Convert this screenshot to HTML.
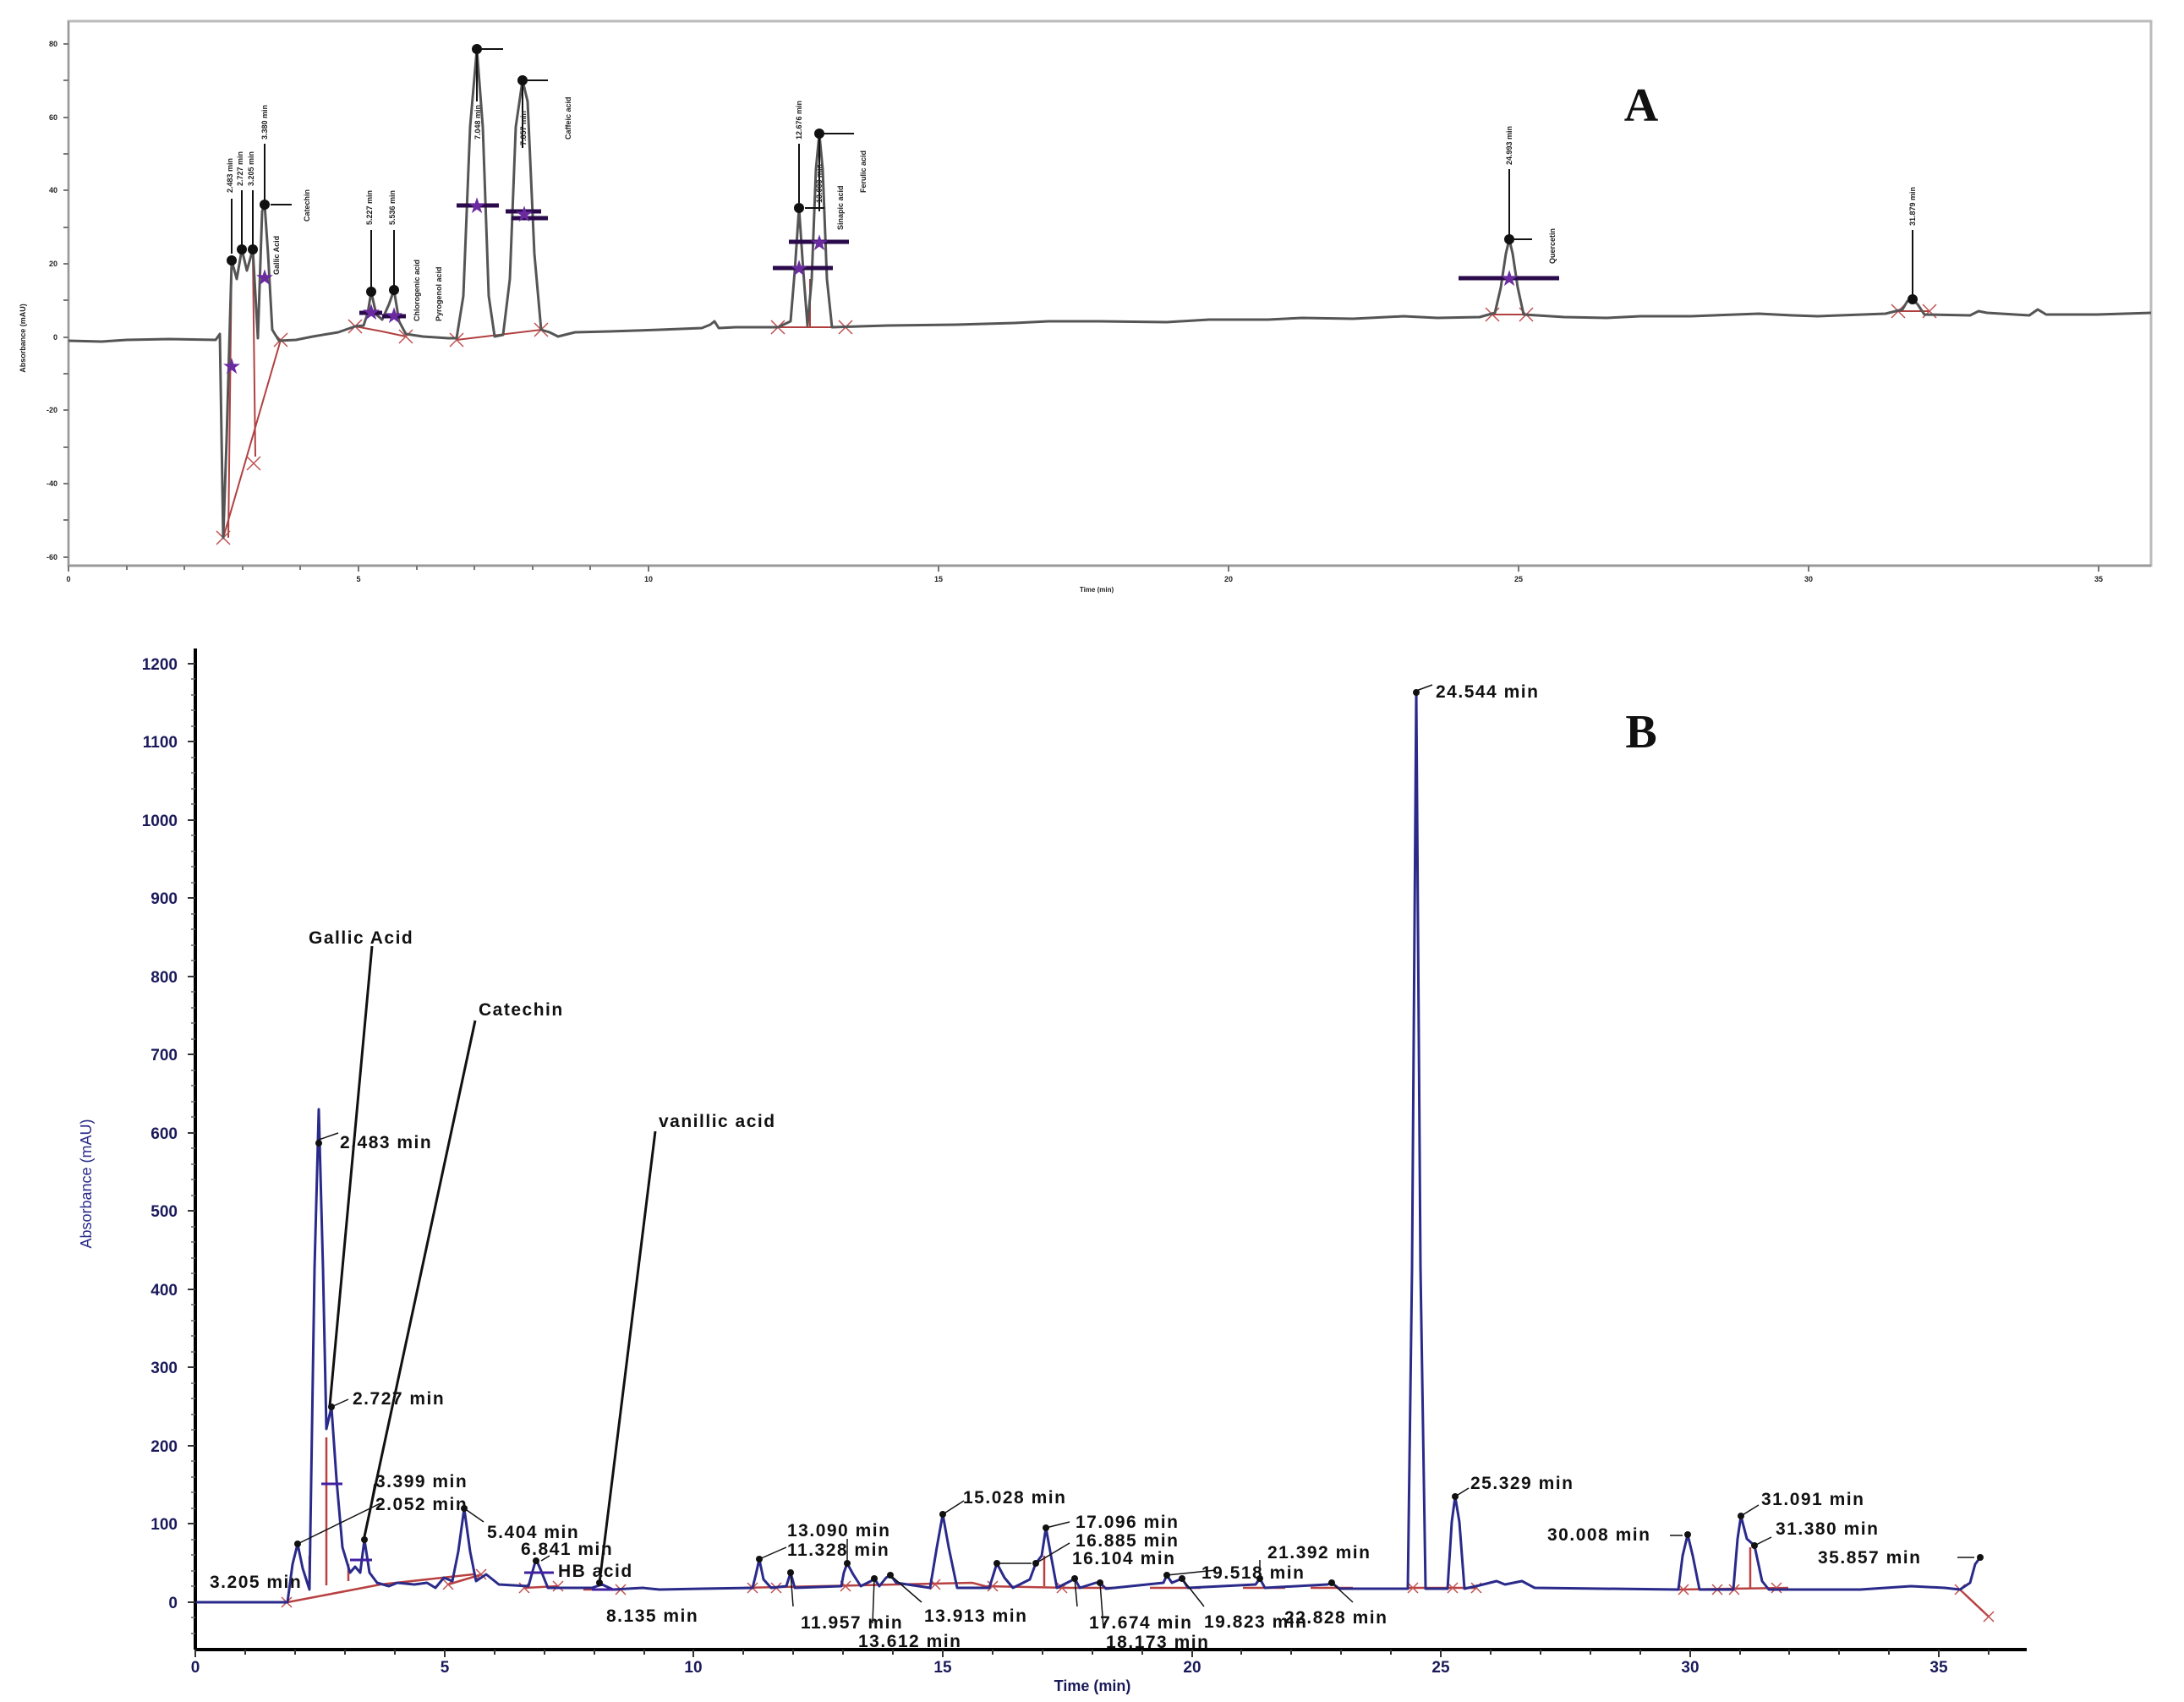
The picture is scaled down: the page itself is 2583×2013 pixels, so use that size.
<!DOCTYPE html>
<html><head><meta charset="utf-8"><style>
html,body{margin:0;padding:0;background:#fff;}
svg{display:block;}
.t{font-family:"Liberation Sans",sans-serif;font-weight:bold;fill:#111;}
.lb{font-family:"Liberation Sans",sans-serif;font-weight:bold;font-size:21px;letter-spacing:1.5px;fill:#111;}
.ax{font-family:"Liberation Sans",sans-serif;font-weight:bold;font-size:19px;fill:#1a1a5a;}
.sa{font-family:"Liberation Sans",sans-serif;font-weight:bold;font-size:9px;fill:#222;}
</style></head><body>
<svg width="2583" height="2013" viewBox="0 0 2583 2013" xmlns="http://www.w3.org/2000/svg">
<rect width="2583" height="2013" fill="#fff"/>

<!-- ================= PANEL A ================= -->
<rect x="81" y="25" width="2463" height="644" fill="none" stroke="#bbb" stroke-width="3"/>
<line x1="81" y1="25" x2="81" y2="669" stroke="#999" stroke-width="2"/>
<line x1="81" y1="669" x2="2544" y2="669" stroke="#999" stroke-width="3"/>
<g stroke="#777" stroke-width="2">
<line x1="75" y1="52" x2="81" y2="52"/><line x1="75" y1="95" x2="81" y2="95"/><line x1="75" y1="139" x2="81" y2="139"/><line x1="75" y1="182" x2="81" y2="182"/><line x1="75" y1="225" x2="81" y2="225"/><line x1="75" y1="269" x2="81" y2="269"/><line x1="75" y1="312" x2="81" y2="312"/><line x1="75" y1="355" x2="81" y2="355"/><line x1="75" y1="399" x2="81" y2="399"/><line x1="75" y1="442" x2="81" y2="442"/><line x1="75" y1="485" x2="81" y2="485"/><line x1="75" y1="529" x2="81" y2="529"/><line x1="75" y1="572" x2="81" y2="572"/><line x1="75" y1="615" x2="81" y2="615"/><line x1="75" y1="659" x2="81" y2="659"/>
</g>
<g stroke="#777" stroke-width="2">
<line x1="81" y1="669" x2="81" y2="676"/><line x1="150" y1="669" x2="150" y2="674"/><line x1="218" y1="669" x2="218" y2="674"/><line x1="287" y1="669" x2="287" y2="674"/><line x1="355" y1="669" x2="355" y2="674"/><line x1="424" y1="669" x2="424" y2="676"/><line x1="493" y1="669" x2="493" y2="674"/><line x1="561" y1="669" x2="561" y2="674"/><line x1="630" y1="669" x2="630" y2="674"/><line x1="698" y1="669" x2="698" y2="674"/><line x1="767" y1="669" x2="767" y2="676"/><line x1="1110" y1="669" x2="1110" y2="676"/><line x1="1453" y1="669" x2="1453" y2="676"/><line x1="1796" y1="669" x2="1796" y2="676"/><line x1="2139" y1="669" x2="2139" y2="676"/><line x1="2482" y1="669" x2="2482" y2="676"/>
</g>
<g class="sa" text-anchor="end">
<text x="68" y="55">80</text><text x="68" y="142">60</text><text x="68" y="228">40</text><text x="68" y="315">20</text><text x="68" y="402">0</text><text x="68" y="488">-20</text><text x="68" y="575">-40</text><text x="68" y="662">-60</text>
</g>
<g class="sa" text-anchor="middle">
<text x="81" y="688">0</text><text x="424" y="688">5</text><text x="767" y="688">10</text><text x="1110" y="688">15</text><text x="1453" y="688">20</text><text x="1796" y="688">25</text><text x="2139" y="688">30</text><text x="2482" y="688">35</text>
<text x="1297" y="700" font-size="8">Time (min)</text>
</g>
<text class="sa" transform="translate(30,400) rotate(-90)" text-anchor="middle" font-size="8">Absorbance (mAU)</text>

<text x="1941" y="143" text-anchor="middle" font-family="Liberation Serif,serif" font-weight="bold" font-size="56" fill="#111">A</text>

<!-- red baselines A -->
<g stroke="#b04040" stroke-width="2" fill="none">
<polyline points="264,636 332,402"/>
<line x1="274" y1="308" x2="270" y2="636"/><line x1="299" y1="300" x2="302" y2="540"/>
<polyline points="420,386 452,392 480,398"/>
<polyline points="540,402 640,390"/>
<polyline points="920,387 1000,387"/><line x1="958" y1="387" x2="958" y2="330"/>
<polyline points="1765,372 1805,372"/><polyline points="2245,368 2282,368"/>
</g>
<g stroke="#c05050" stroke-width="1.5">
<path d="M256,628 l16,16 M272,628 l-16,16"/><path d="M292,540 l16,16 M308,540 l-16,16"/><path d="M324,394 l16,16 M340,394 l-16,16"/>
<path d="M412,378 l16,16 M428,378 l-16,16"/><path d="M472,390 l16,16 M488,390 l-16,16"/>
<path d="M532,394 l16,16 M548,394 l-16,16"/><path d="M632,382 l16,16 M648,382 l-16,16"/>
<path d="M912,379 l16,16 M928,379 l-16,16"/><path d="M992,379 l16,16 M1008,379 l-16,16"/>
<path d="M1757,364 l16,16 M1773,364 l-16,16"/><path d="M1797,364 l16,16 M1813,364 l-16,16"/>
<path d="M2237,360 l16,16 M2253,360 l-16,16"/><path d="M2274,360 l16,16 M2290,360 l-16,16"/>
</g>

<!-- trace A -->
<polyline fill="none" stroke="#555" stroke-width="3" stroke-linejoin="round" points="81,403 120,404 150,402 200,401 255,402 260,395 264,636 268,520 274,308 280,330 286,295 292,320 299,295 305,400 310,250 313,242 317,300 322,390 330,403 350,402 370,398 400,393 420,386 430,385 435,370 439,345 445,372 452,378 460,360 466,343 472,380 480,395 500,398 530,400 540,400 548,350 556,150 564,58 571,150 578,350 585,398 595,396 603,330 610,150 618,95 624,120 632,300 640,390 650,393 660,398 680,393 720,392 780,390 830,388 840,384 845,380 850,388 870,387 920,387 935,380 940,320 945,246 950,320 955,385 960,330 965,200 969,158 973,200 978,330 984,387 1050,385 1130,384 1200,382 1240,380 1300,380 1380,381 1430,378 1500,378 1540,376 1600,377 1660,374 1700,376 1750,375 1768,370 1775,340 1781,300 1785,283 1789,300 1795,340 1802,372 1850,375 1900,376 1940,374 2000,374 2080,371 2120,373 2150,374 2230,371 2250,366 2256,356 2262,354 2268,360 2276,372 2330,373 2340,368 2350,370 2400,373 2410,366 2420,372 2480,372 2544,370"/>
<!-- black label lines A -->
<g stroke="#111" stroke-width="2">
<line x1="313" y1="242" x2="313" y2="170"/><line x1="274" y1="300" x2="274" y2="235"/><line x1="286" y1="290" x2="286" y2="225"/><line x1="299" y1="290" x2="299" y2="225"/>
<line x1="320" y1="242" x2="345" y2="242"/>
<line x1="439" y1="340" x2="439" y2="272"/><line x1="466" y1="340" x2="466" y2="272"/>
<line x1="564" y1="58" x2="564" y2="120"/><line x1="570" y1="58" x2="595" y2="58"/>
<line x1="618" y1="95" x2="618" y2="175"/><line x1="624" y1="95" x2="648" y2="95"/>
<line x1="945" y1="240" x2="945" y2="170"/><line x1="952" y1="246" x2="975" y2="246"/>
<line x1="969" y1="158" x2="969" y2="250"/><line x1="975" y1="158" x2="1010" y2="158"/>
<line x1="1785" y1="278" x2="1785" y2="200"/><line x1="1791" y1="283" x2="1812" y2="283"/>
<line x1="2262" y1="350" x2="2262" y2="272"/>
</g>
<g fill="#111">
<circle cx="274" cy="308" r="6"/><circle cx="286" cy="295" r="6"/><circle cx="299" cy="295" r="6"/><circle cx="313" cy="242" r="6"/>
<circle cx="439" cy="345" r="6"/><circle cx="466" cy="343" r="6"/><circle cx="564" cy="58" r="6"/><circle cx="618" cy="95" r="6"/>
<circle cx="945" cy="246" r="6"/><circle cx="969" cy="158" r="6"/><circle cx="1785" cy="283" r="6"/><circle cx="2262" cy="354" r="6"/>
</g>
<!-- purple bars/stars A -->
<g stroke="#2a0a4a" stroke-width="5">
<line x1="540" y1="243" x2="590" y2="243"/><line x1="598" y1="250" x2="640" y2="250"/><line x1="605" y1="258" x2="648" y2="258"/>
<line x1="933" y1="286" x2="1004" y2="286"/><line x1="914" y1="317" x2="985" y2="317"/>
<line x1="1725" y1="329" x2="1844" y2="329"/>
<line x1="425" y1="370" x2="452" y2="370"/><line x1="452" y1="374" x2="480" y2="374"/>
</g>
<g fill="#6a2aa0" font-size="26" font-family="DejaVu Sans,sans-serif" text-anchor="middle">
<text x="274" y="442">★</text><text x="313" y="337">★</text><text x="439" y="378">★</text><text x="466" y="382">★</text>
<text x="564" y="252">★</text><text x="620" y="262">★</text><text x="945" y="326">★</text><text x="969" y="296">★</text><text x="1785" y="338">★</text>
</g>
<!-- rotated small labels A -->
<g class="sa">
<text transform="translate(275,228) rotate(-90)">2.483 min</text>
<text transform="translate(287,220) rotate(-90)">2.727 min</text>
<text transform="translate(300,220) rotate(-90)">3.205 min</text>
<text transform="translate(316,165) rotate(-90)">3.380 min</text>
<text transform="translate(366,262) rotate(-90)">Catechin</text>
<text transform="translate(330,325) rotate(-90)">Gallic Acid</text>
<text transform="translate(440,266) rotate(-90)">5.227 min</text>
<text transform="translate(467,266) rotate(-90)">5.536 min</text>
<text transform="translate(496,380) rotate(-90)">Chlorogenic acid</text>
<text transform="translate(522,380) rotate(-90)">Pyrogenol acid</text>
<text transform="translate(568,165) rotate(-90)">7.048 min</text>
<text transform="translate(622,172) rotate(-90)">7.857 min</text>
<text transform="translate(675,165) rotate(-90)">Caffeic acid</text>
<text transform="translate(948,165) rotate(-90)">12.676 min</text>
<text transform="translate(972,240) rotate(-90)">13.000 min</text>
<text transform="translate(997,272) rotate(-90)">Sinapic acid</text>
<text transform="translate(1024,228) rotate(-90)">Ferulic acid</text>
<text transform="translate(1788,195) rotate(-90)">24.993 min</text>
<text transform="translate(1839,312) rotate(-90)">Quercetin</text>
<text transform="translate(2265,267) rotate(-90)">31.879 min</text>
</g>

<!-- ================= PANEL B ================= -->
<line x1="231" y1="767" x2="231" y2="1951" stroke="#000" stroke-width="4"/>
<line x1="231" y1="1951" x2="2397" y2="1951" stroke="#000" stroke-width="4"/>
<g stroke="#333" stroke-width="2">
<line x1="222" y1="785" x2="231" y2="785"/><line x1="222" y1="877" x2="231" y2="877"/><line x1="222" y1="970" x2="231" y2="970"/><line x1="222" y1="1062" x2="231" y2="1062"/><line x1="222" y1="1155" x2="231" y2="1155"/><line x1="222" y1="1247" x2="231" y2="1247"/><line x1="222" y1="1340" x2="231" y2="1340"/><line x1="222" y1="1432" x2="231" y2="1432"/><line x1="222" y1="1525" x2="231" y2="1525"/><line x1="222" y1="1617" x2="231" y2="1617"/><line x1="222" y1="1710" x2="231" y2="1710"/><line x1="222" y1="1802" x2="231" y2="1802"/><line x1="222" y1="1895" x2="231" y2="1895"/>
</g>
<g stroke="#666" stroke-width="1.5">
<line x1="226" y1="803" x2="231" y2="803"/><line x1="226" y1="822" x2="231" y2="822"/><line x1="226" y1="840" x2="231" y2="840"/><line x1="226" y1="859" x2="231" y2="859"/>
<line x1="226" y1="896" x2="231" y2="896"/><line x1="226" y1="914" x2="231" y2="914"/><line x1="226" y1="933" x2="231" y2="933"/><line x1="226" y1="951" x2="231" y2="951"/>
<line x1="226" y1="988" x2="231" y2="988"/><line x1="226" y1="1007" x2="231" y2="1007"/><line x1="226" y1="1025" x2="231" y2="1025"/><line x1="226" y1="1044" x2="231" y2="1044"/>
<line x1="226" y1="1081" x2="231" y2="1081"/><line x1="226" y1="1099" x2="231" y2="1099"/><line x1="226" y1="1118" x2="231" y2="1118"/><line x1="226" y1="1136" x2="231" y2="1136"/>
<line x1="226" y1="1173" x2="231" y2="1173"/><line x1="226" y1="1192" x2="231" y2="1192"/><line x1="226" y1="1210" x2="231" y2="1210"/><line x1="226" y1="1229" x2="231" y2="1229"/>
<line x1="226" y1="1266" x2="231" y2="1266"/><line x1="226" y1="1284" x2="231" y2="1284"/><line x1="226" y1="1303" x2="231" y2="1303"/><line x1="226" y1="1321" x2="231" y2="1321"/>
<line x1="226" y1="1358" x2="231" y2="1358"/><line x1="226" y1="1377" x2="231" y2="1377"/><line x1="226" y1="1395" x2="231" y2="1395"/><line x1="226" y1="1414" x2="231" y2="1414"/>
<line x1="226" y1="1451" x2="231" y2="1451"/><line x1="226" y1="1469" x2="231" y2="1469"/><line x1="226" y1="1488" x2="231" y2="1488"/><line x1="226" y1="1506" x2="231" y2="1506"/>
<line x1="226" y1="1543" x2="231" y2="1543"/><line x1="226" y1="1562" x2="231" y2="1562"/><line x1="226" y1="1580" x2="231" y2="1580"/><line x1="226" y1="1599" x2="231" y2="1599"/>
<line x1="226" y1="1636" x2="231" y2="1636"/><line x1="226" y1="1654" x2="231" y2="1654"/><line x1="226" y1="1673" x2="231" y2="1673"/><line x1="226" y1="1691" x2="231" y2="1691"/>
<line x1="226" y1="1728" x2="231" y2="1728"/><line x1="226" y1="1747" x2="231" y2="1747"/><line x1="226" y1="1765" x2="231" y2="1765"/><line x1="226" y1="1784" x2="231" y2="1784"/>
<line x1="226" y1="1821" x2="231" y2="1821"/><line x1="226" y1="1839" x2="231" y2="1839"/><line x1="226" y1="1858" x2="231" y2="1858"/><line x1="226" y1="1876" x2="231" y2="1876"/>
<line x1="226" y1="1913" x2="231" y2="1913"/><line x1="226" y1="1932" x2="231" y2="1932"/>
</g>
<g stroke="#333" stroke-width="2">
<line x1="231" y1="1951" x2="231" y2="1960"/><line x1="290" y1="1951" x2="290" y2="1957"/><line x1="349" y1="1951" x2="349" y2="1957"/><line x1="408" y1="1951" x2="408" y2="1957"/><line x1="467" y1="1951" x2="467" y2="1957"/>
<line x1="526" y1="1951" x2="526" y2="1960"/><line x1="585" y1="1951" x2="585" y2="1957"/><line x1="644" y1="1951" x2="644" y2="1957"/><line x1="703" y1="1951" x2="703" y2="1957"/><line x1="762" y1="1951" x2="762" y2="1957"/>
<line x1="820" y1="1951" x2="820" y2="1960"/><line x1="879" y1="1951" x2="879" y2="1957"/><line x1="938" y1="1951" x2="938" y2="1957"/><line x1="997" y1="1951" x2="997" y2="1957"/><line x1="1056" y1="1951" x2="1056" y2="1957"/>
<line x1="1115" y1="1951" x2="1115" y2="1960"/><line x1="1174" y1="1951" x2="1174" y2="1957"/><line x1="1233" y1="1951" x2="1233" y2="1957"/><line x1="1292" y1="1951" x2="1292" y2="1957"/><line x1="1351" y1="1951" x2="1351" y2="1957"/>
<line x1="1410" y1="1951" x2="1410" y2="1960"/><line x1="1468" y1="1951" x2="1468" y2="1957"/><line x1="1527" y1="1951" x2="1527" y2="1957"/><line x1="1586" y1="1951" x2="1586" y2="1957"/><line x1="1645" y1="1951" x2="1645" y2="1957"/>
<line x1="1704" y1="1951" x2="1704" y2="1960"/><line x1="1763" y1="1951" x2="1763" y2="1957"/><line x1="1822" y1="1951" x2="1822" y2="1957"/><line x1="1881" y1="1951" x2="1881" y2="1957"/><line x1="1940" y1="1951" x2="1940" y2="1957"/>
<line x1="1999" y1="1951" x2="1999" y2="1960"/><line x1="2058" y1="1951" x2="2058" y2="1957"/><line x1="2116" y1="1951" x2="2116" y2="1957"/><line x1="2175" y1="1951" x2="2175" y2="1957"/><line x1="2234" y1="1951" x2="2234" y2="1957"/>
<line x1="2293" y1="1951" x2="2293" y2="1960"/><line x1="2352" y1="1951" x2="2352" y2="1957"/>
</g>
<g class="ax" text-anchor="end">
<text x="210" y="792">1200</text><text x="210" y="884">1100</text><text x="210" y="977">1000</text><text x="210" y="1069">900</text><text x="210" y="1162">800</text><text x="210" y="1254">700</text><text x="210" y="1347">600</text><text x="210" y="1439">500</text><text x="210" y="1532">400</text><text x="210" y="1624">300</text><text x="210" y="1717">200</text><text x="210" y="1809">100</text><text x="210" y="1902">0</text>
</g>
<g class="ax" text-anchor="middle">
<text x="231" y="1978">0</text><text x="526" y="1978">5</text><text x="820" y="1978">10</text><text x="1115" y="1978">15</text><text x="1410" y="1978">20</text><text x="1704" y="1978">25</text><text x="1999" y="1978">30</text><text x="2293" y="1978">35</text>
<text x="1292" y="2000" font-size="18">Time (min)</text>
</g>
<text transform="translate(108,1400) rotate(-90)" text-anchor="middle" font-family="Liberation Sans,sans-serif" font-size="18" fill="#2a2a8a">Absorbance (mAU)</text>

<text x="1941" y="884" text-anchor="middle" font-family="Liberation Serif,serif" font-weight="bold" font-size="56" fill="#111">B</text>

<!-- red baselines B -->
<g stroke="#b84040" stroke-width="2.5" fill="none">
<polyline points="340,1895 450,1874 560,1862"/>
<line x1="366" y1="1880" x2="366" y2="1840"/><line x1="386" y1="1875" x2="386" y2="1700"/><line x1="412" y1="1870" x2="412" y2="1850"/>
<polyline points="530,1874 570,1862"/>
<polyline points="620,1878 660,1876"/><polyline points="690,1880 735,1880"/>
<polyline points="880,1878 1150,1872 1165,1876 1265,1878 1320,1878"/>
<line x1="1235" y1="1876" x2="1235" y2="1840"/>
<polyline points="1360,1878 1420,1878"/><polyline points="1470,1878 1520,1878"/><polyline points="1550,1878 1600,1878"/>
<polyline points="1665,1878 1745,1878"/>
<polyline points="1985,1880 2115,1878"/><line x1="2070" y1="1878" x2="2070" y2="1830"/>
<polyline points="2318,1880 2352,1912"/>
</g>
<g stroke="#c05050" stroke-width="1.5">
<path d="M333,1889 l12,12 M345,1889 l-12,12"/><path d="M524,1868 l12,12 M536,1868 l-12,12"/><path d="M563,1856 l12,12 M575,1856 l-12,12"/>
<path d="M614,1872 l12,12 M626,1872 l-12,12"/><path d="M654,1870 l12,12 M666,1870 l-12,12"/><path d="M728,1874 l12,12 M740,1874 l-12,12"/>
<path d="M884,1872 l12,12 M896,1872 l-12,12"/><path d="M912,1872 l12,12 M924,1872 l-12,12"/><path d="M994,1870 l12,12 M1006,1870 l-12,12"/><path d="M1100,1868 l12,12 M1112,1868 l-12,12"/><path d="M1168,1870 l12,12 M1180,1870 l-12,12"/><path d="M1250,1872 l12,12 M1262,1872 l-12,12"/>
<path d="M1665,1872 l12,12 M1677,1872 l-12,12"/><path d="M1712,1872 l12,12 M1724,1872 l-12,12"/><path d="M1740,1872 l12,12 M1752,1872 l-12,12"/>
<path d="M1985,1874 l12,12 M1997,1874 l-12,12"/><path d="M2025,1874 l12,12 M2037,1874 l-12,12"/><path d="M2045,1874 l12,12 M2057,1874 l-12,12"/><path d="M2095,1872 l12,12 M2107,1872 l-12,12"/>
<path d="M2312,1874 l12,12 M2324,1874 l-12,12"/><path d="M2346,1906 l12,12 M2358,1906 l-12,12"/>
</g>

<!-- trace B -->
<polyline fill="none" stroke="#2a2a8a" stroke-width="3" stroke-linejoin="round" points="232,1895 340,1895 346,1850 352,1826 358,1855 366,1880 372,1500 377,1312 382,1500 386,1690 392,1664 398,1750 405,1830 414,1860 420,1853 426,1860 431,1821 437,1860 446,1872 460,1876 470,1872 490,1874 505,1872 515,1878 525,1866 535,1870 542,1835 549,1784 556,1835 563,1870 575,1862 590,1874 625,1876 630,1858 634,1844 640,1858 648,1878 700,1878 712,1874 725,1880 760,1878 780,1880 830,1879 890,1878 894,1862 898,1844 903,1868 912,1878 930,1876 935,1860 940,1878 995,1876 998,1860 1002,1849 1009,1862 1018,1876 1030,1870 1034,1867 1040,1876 1048,1866 1053,1863 1060,1872 1100,1878 1108,1830 1115,1791 1122,1830 1132,1878 1170,1878 1179,1849 1188,1866 1198,1878 1218,1868 1225,1849 1232,1840 1237,1807 1243,1840 1250,1878 1266,1870 1271,1867 1277,1878 1296,1872 1301,1872 1308,1879 1376,1872 1380,1863 1386,1872 1398,1867 1405,1878 1485,1874 1490,1867 1496,1878 1570,1874 1575,1872 1584,1879 1665,1879 1670,1500 1675,817 1680,1500 1686,1879 1712,1879 1717,1800 1721,1770 1726,1800 1732,1879 1750,1875 1770,1870 1780,1874 1800,1870 1815,1878 1985,1880 1990,1840 1996,1815 2002,1840 2010,1880 2050,1880 2055,1820 2059,1793 2066,1820 2075,1828 2084,1870 2092,1880 2200,1880 2260,1876 2300,1878 2318,1880 2330,1872 2336,1850 2342,1842"/>
<!-- purple markers B -->
<g stroke="#4020a0" stroke-width="3">
<line x1="380" y1="1755" x2="405" y2="1755"/><line x1="414" y1="1845" x2="440" y2="1845"/><line x1="620" y1="1860" x2="655" y2="1860"/><line x1="700" y1="1880" x2="730" y2="1880"/>
</g>
<!-- annotation lines B -->
<g stroke="#111" stroke-width="3" fill="none">
<line x1="440" y1="1119" x2="390" y2="1663"/>
<line x1="562" y1="1207" x2="430" y2="1822"/>
<line x1="775" y1="1338" x2="709" y2="1872"/>
</g>
<g stroke="#111" stroke-width="1.5" fill="none">
<line x1="377" y1="1348" x2="400" y2="1340"/>
<line x1="392" y1="1664" x2="412" y2="1655"/>
<line x1="352" y1="1826" x2="450" y2="1778"/>
<line x1="431" y1="1821" x2="443" y2="1755"/>
<line x1="549" y1="1784" x2="572" y2="1800"/>
<line x1="640" y1="1846" x2="650" y2="1840"/>
<line x1="898" y1="1844" x2="930" y2="1830"/>
<line x1="1002" y1="1849" x2="1002" y2="1820"/>
<line x1="935" y1="1860" x2="938" y2="1900"/>
<line x1="1034" y1="1867" x2="1032" y2="1920"/>
<line x1="1053" y1="1863" x2="1090" y2="1895"/>
<line x1="1115" y1="1791" x2="1140" y2="1775"/>
<line x1="1237" y1="1807" x2="1265" y2="1800"/>
<line x1="1225" y1="1849" x2="1265" y2="1825"/>
<line x1="1179" y1="1849" x2="1220" y2="1849"/>
<line x1="1271" y1="1867" x2="1274" y2="1900"/>
<line x1="1301" y1="1872" x2="1305" y2="1925"/>
<line x1="1380" y1="1863" x2="1438" y2="1857"/>
<line x1="1398" y1="1867" x2="1424" y2="1900"/>
<line x1="1490" y1="1867" x2="1490" y2="1845"/>
<line x1="1575" y1="1872" x2="1600" y2="1895"/>
<line x1="1675" y1="817" x2="1694" y2="810"/>
<line x1="1721" y1="1770" x2="1737" y2="1760"/>
<line x1="1975" y1="1816" x2="1990" y2="1816"/>
<line x1="2059" y1="1793" x2="2080" y2="1780"/>
<line x1="2075" y1="1828" x2="2095" y2="1818"/>
<line x1="2315" y1="1842" x2="2335" y2="1842"/>
</g>
<g fill="#111">
<circle cx="377" cy="1352" r="4"/><circle cx="392" cy="1664" r="4"/><circle cx="352" cy="1826" r="4"/><circle cx="431" cy="1821" r="4"/><circle cx="549" cy="1784" r="4"/><circle cx="634" cy="1846" r="4"/><circle cx="709" cy="1872" r="4"/>
<circle cx="898" cy="1844" r="4"/><circle cx="935" cy="1860" r="4"/><circle cx="1002" cy="1849" r="4"/><circle cx="1034" cy="1867" r="4"/><circle cx="1053" cy="1863" r="4"/><circle cx="1115" cy="1791" r="4"/>
<circle cx="1179" cy="1849" r="4"/><circle cx="1225" cy="1849" r="4"/><circle cx="1237" cy="1807" r="4"/><circle cx="1271" cy="1867" r="4"/><circle cx="1301" cy="1872" r="4"/><circle cx="1380" cy="1863" r="4"/><circle cx="1398" cy="1867" r="4"/><circle cx="1490" cy="1867" r="4"/><circle cx="1575" cy="1872" r="4"/>
<circle cx="1675" cy="819" r="4"/><circle cx="1721" cy="1770" r="4"/><circle cx="1996" cy="1815" r="4"/><circle cx="2059" cy="1793" r="4"/><circle cx="2075" cy="1828" r="4"/><circle cx="2342" cy="1842" r="4"/>
</g>
<!-- labels B -->
<g class="lb">
<text x="365" y="1116">Gallic Acid</text>
<text x="566" y="1201">Catechin</text>
<text x="779" y="1333">vanillic acid</text>
<text x="402" y="1358">2.483 min</text>
<text x="417" y="1661">2.727 min</text>
<text x="444" y="1759">3.399 min</text>
<text x="444" y="1786">2.052 min</text>
<text x="248" y="1878">3.205 min</text>
<text x="576" y="1819">5.404 min</text>
<text x="616" y="1839">6.841 min</text>
<text x="660" y="1865">HB acid</text>
<text x="717" y="1918">8.135 min</text>
<text x="931" y="1817">13.090 min</text>
<text x="931" y="1840">11.328 min</text>
<text x="947" y="1926">11.957 min</text>
<text x="1015" y="1948">13.612 min</text>
<text x="1093" y="1918">13.913 min</text>
<text x="1139" y="1778">15.028 min</text>
<text x="1272" y="1807">17.096 min</text>
<text x="1272" y="1829">16.885 min</text>
<text x="1268" y="1850">16.104 min</text>
<text x="1288" y="1926">17.674 min</text>
<text x="1308" y="1949">18.173 min</text>
<text x="1421" y="1867">19.518 min</text>
<text x="1499" y="1843">21.392 min</text>
<text x="1424" y="1925">19.823 min</text>
<text x="1519" y="1920">22.828 min</text>
<text x="1698" y="825">24.544 min</text>
<text x="1739" y="1761">25.329 min</text>
<text x="1830" y="1822">30.008 min</text>
<text x="2083" y="1780">31.091 min</text>
<text x="2100" y="1815">31.380 min</text>
<text x="2150" y="1849">35.857 min</text>
</g>
</svg>
</body></html>
